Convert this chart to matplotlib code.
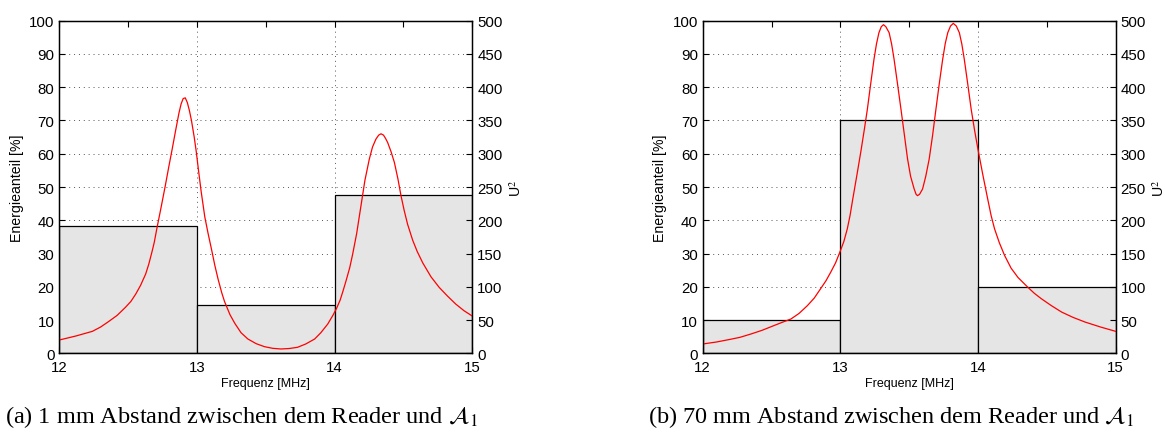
import numpy as np
import matplotlib
matplotlib.use('Agg')
import matplotlib.pyplot as plt
from matplotlib.ticker import MultipleLocator

plt.rcParams['font.family'] = ['Liberation Sans', 'DejaVu Sans']
plt.rcParams['mathtext.fontset'] = 'stix'
plt.rcParams['xtick.direction'] = 'in'
plt.rcParams['ytick.direction'] = 'in'

# Balken: Energieanteil je MHz-Band
band_edges = [12, 13, 14]
energy_a = [38.2, 14.4, 47.5]
energy_b = [10.0, 70.2, 19.8]

# U^2 Kurven
freq_a = [12.0, 12.06, 12.12, 12.18, 12.24, 12.30, 12.36, 12.42, 12.48, 12.52,
          12.555, 12.59, 12.627, 12.65, 12.675, 12.69, 12.71, 12.74, 12.77, 12.795,
          12.82, 12.845, 12.87, 12.885, 12.90, 12.915, 12.93, 12.945, 12.96, 12.98,
          12.995, 13.01, 13.03, 13.057, 13.08, 13.106, 13.13, 13.154, 13.18, 13.20,
          13.24, 13.275, 13.32, 13.37, 13.43, 13.49, 13.55, 13.61, 13.67, 13.73,
          13.79, 13.855, 13.90, 13.95, 13.97, 13.99, 14.015, 14.04, 14.06, 14.083,
          14.11, 14.131, 14.16, 14.19, 14.22, 14.252, 14.275, 14.30, 14.32, 14.337,
          14.355, 14.37, 14.385, 14.41, 14.434, 14.46, 14.482, 14.505, 14.53, 14.567,
          14.60, 14.64, 14.70, 14.76, 14.82, 14.88, 14.94, 15.0]
u2_a = [20, 23, 26, 29.5, 33, 39.5, 48, 57, 69, 78,
        89, 102, 119, 134, 154, 167, 189, 220, 252, 280,
        307, 335, 362, 375, 383, 384, 377, 365, 350, 325,
        303, 277, 244, 205, 181, 156, 132, 111, 91, 78,
        58, 45, 31, 21.5, 14.5, 10, 7.5, 6.5, 7.2, 9,
        14, 21.5, 31, 44, 51, 58, 68, 80, 93, 109,
        129, 149, 180, 220, 260, 292, 310, 322, 328, 330,
        328, 323, 317, 303, 287, 262, 237, 215, 194, 170,
        153, 136, 115, 99, 86, 74, 64, 56]

freq_b = [12.0, 12.1, 12.2, 12.27, 12.35, 12.43, 12.515, 12.58, 12.64, 12.70,
          12.76, 12.81, 12.856, 12.895, 12.93, 12.965, 12.996, 13.025, 13.05, 13.07,
          13.09, 13.12, 13.15, 13.175, 13.196, 13.22, 13.244, 13.262, 13.28, 13.297,
          13.313, 13.33, 13.354, 13.372, 13.39, 13.415, 13.44, 13.465, 13.488, 13.51,
          13.536, 13.55, 13.56, 13.575, 13.597, 13.62, 13.645, 13.67, 13.694, 13.72,
          13.743, 13.762, 13.78, 13.80, 13.82, 13.842, 13.864, 13.882, 13.90, 13.925,
          13.95, 13.975, 13.999, 14.035, 14.07, 14.095, 14.12, 14.155, 14.193, 14.24,
          14.29, 14.363, 14.41, 14.46, 14.53, 14.607, 14.69, 14.777, 14.89, 15.0]
u2_b = [14, 17, 21, 24, 29, 34.5, 41.5, 46.8, 51.5, 60,
        71.6, 83, 97, 109, 122, 136, 152, 168, 187, 207,
        232, 268, 305, 338, 367, 405, 442, 465, 482, 491,
        494, 491, 482, 465, 442, 405, 367, 328, 292, 266,
        247, 239, 237, 239, 247, 266, 292, 328, 367, 408,
        442, 466, 482, 492, 496, 492, 482, 465, 442, 405,
        367, 335, 307, 268, 232, 207, 187, 166, 147, 128,
        114, 99, 90, 82, 72, 62, 54, 47, 39.5, 33]

captions = ['(a) 1 mm Abstand zwischen dem Reader und $\\mathcal{A}_1$',
            '(b) 70 mm Abstand zwischen dem Reader und $\\mathcal{A}_1$']

fig = plt.figure(figsize=(11.65, 4.35), dpi=100)
lefts = [0.0509, 0.6032]
panels = [(energy_a, freq_a, u2_a), (energy_b, freq_b, u2_b)]

for i, (energy, freq, u2) in enumerate(panels):
    ax = fig.add_axes([lefts[i], 0.1855, 0.3545, 0.7646])
    ax.set_axisbelow(True)
    ax.bar(band_edges, energy, width=1.0, align='edge', color='#e5e5e5',
           edgecolor='black', linewidth=0.9, zorder=2)
    ax.set_xlim(12, 15)
    ax.set_ylim(0, 100)
    ax.xaxis.set_major_locator(MultipleLocator(1))
    ax.xaxis.set_minor_locator(MultipleLocator(0.5))
    ax.yaxis.set_major_locator(MultipleLocator(10))
    ax.grid(True, which='major', linestyle=(0, (1, 4)), color='#555555', linewidth=0.7)
    ax.tick_params(axis='x', which='both', top=True, labelsize=10.8, length=4, width=0.8, pad=5)
    ax.tick_params(axis='y', which='both', right=False, labelsize=10.8, length=4, width=0.8)
    ax.set_xlabel('Frequenz [MHz]', fontsize=9, labelpad=2)
    ax.set_ylabel('Energieanteil [%]', fontsize=10.2, labelpad=4)
    for s in ax.spines.values():
        s.set_linewidth(1.0)

    ax2 = ax.twinx()
    ax2.plot(freq, u2, color='red', linewidth=0.9)
    ax2.set_ylim(0, 500)
    ax2.yaxis.set_major_locator(MultipleLocator(50))
    ax2.tick_params(axis='y', labelsize=10.8, length=4, width=0.8)
    ax2.set_ylabel('U$^2$', fontsize=10.2, labelpad=4,
                   fontfamily=['Liberation Sans', 'DejaVu Sans'])
    ax2.set_xlim(12, 15)

    fig.text(lefts[i] - 0.047, 0.028, captions[i], fontsize=17.5,
             fontfamily=['Liberation Serif', 'DejaVu Serif'], ha='left', va='baseline')

fig.savefig('out.png', dpi=100)
